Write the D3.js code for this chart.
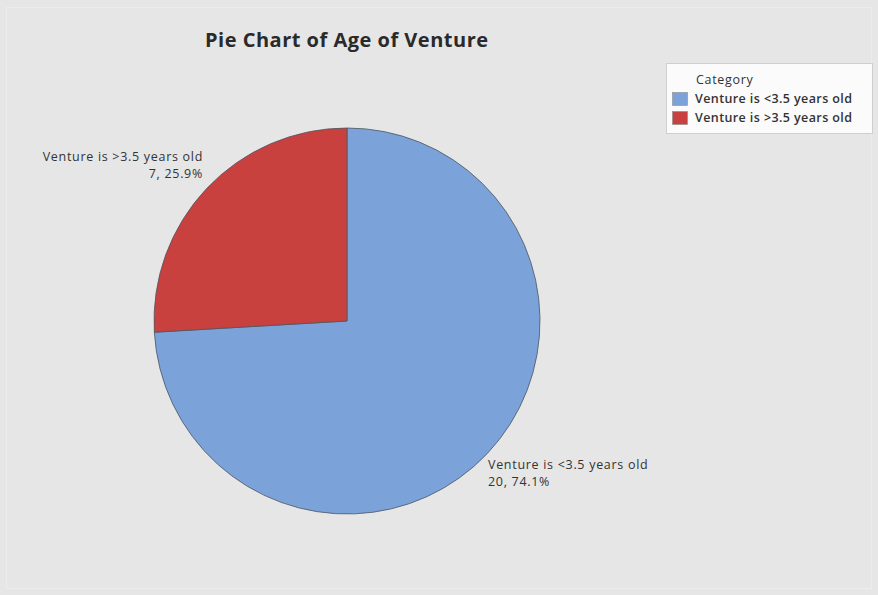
<!DOCTYPE html>
<html>
<head>
<meta charset="utf-8">
<script src="https://cdn.jsdelivr.net/npm/d3@7"></script>
<style>
  html, body { margin: 0; padding: 0; background: #e6e6e6; }
  svg { display: block; }
  text { font-family: "Open Sans", "DejaVu Sans", sans-serif; fill: #333; }
</style>
</head>
<body>
<svg id="chart" width="878" height="595"></svg>
<script>
// Age of venture: counts per category
const categories = ["Venture is <3.5 years old", "Venture is >3.5 years old"];
const counts = [20, 7];
const colors = ["#7ba3d9", "#c8413f"];
const chartTitle = "Pie Chart of Age of Venture";
const legendTitle = "Category";

const svg = d3.select("#chart");
const W = 878, H = 595;

svg.append("rect").attr("width", W).attr("height", H).attr("fill", "#e6e6e6");
svg.append("rect").attr("x", 6.5).attr("y", 7.5).attr("width", W - 13).attr("height", H - 14)
  .attr("fill", "none").attr("stroke", "#ececec").attr("stroke-width", 1.2);

svg.append("text").attr("x", 205).attr("y", 47)
  .attr("font-size", 20).attr("font-weight", "bold").attr("letter-spacing", 0.5)
  .style("fill", "#2a2a2a")
  .text(chartTitle);

const total = d3.sum(counts);
const data = categories.map((c, i) => ({ cat: c, value: counts[i], color: colors[i] }));

const cx = 347, cy = 321, r = 193;
const pie = d3.pie().value(d => d.value).sort(null);
const arc = d3.arc().innerRadius(0).outerRadius(r);
const arcs = pie(data);

const g = svg.append("g").attr("transform", `translate(${cx},${cy})`);
g.selectAll("path").data(arcs).join("path")
  .attr("d", arc)
  .attr("fill", d => d.data.color)
  .attr("stroke", "#4d5560").attr("stroke-width", 0.8);

// Slice labels
const fmt = d => `${d.value}, ${(d.value / total * 100).toFixed(1)}%`;
const labelPos = [
  { x: 488, y: 469, anchor: "start" },
  { x: 203, y: 161, anchor: "end" }
];
arcs.forEach((d, i) => {
  const p = labelPos[i];
  const t = svg.append("text").attr("x", p.x).attr("y", p.y)
    .attr("text-anchor", p.anchor).attr("font-size", 12.5).attr("letter-spacing", 0.7);
  t.append("tspan").attr("x", p.x).text(d.data.cat);
  t.append("tspan").attr("x", p.x).attr("dy", 17).text(fmt(d.data));
});

// Legend
const lg = svg.append("g");
lg.append("rect").attr("x", 666.5).attr("y", 63.5).attr("width", 206).attr("height", 70)
  .attr("fill", "#fbfbfb").attr("stroke", "#cfcfcf");
lg.append("text").attr("x", 696).attr("y", 84).attr("font-size", 12.5)
  .attr("letter-spacing", 0.7).text(legendTitle);
data.forEach((d, i) => {
  const y = 92 + i * 19;
  lg.append("rect").attr("x", 672.5).attr("y", y + 0.5).attr("width", 15).attr("height", 13)
    .attr("fill", d.color).attr("stroke", "#8a8a8a").attr("stroke-width", 0.6);
  lg.append("text").attr("x", 695).attr("y", y + 11).attr("font-size", 12.5)
    .attr("font-weight", 600).attr("letter-spacing", 0.4).text(d.cat);
});
</script>
</body>
</html>
